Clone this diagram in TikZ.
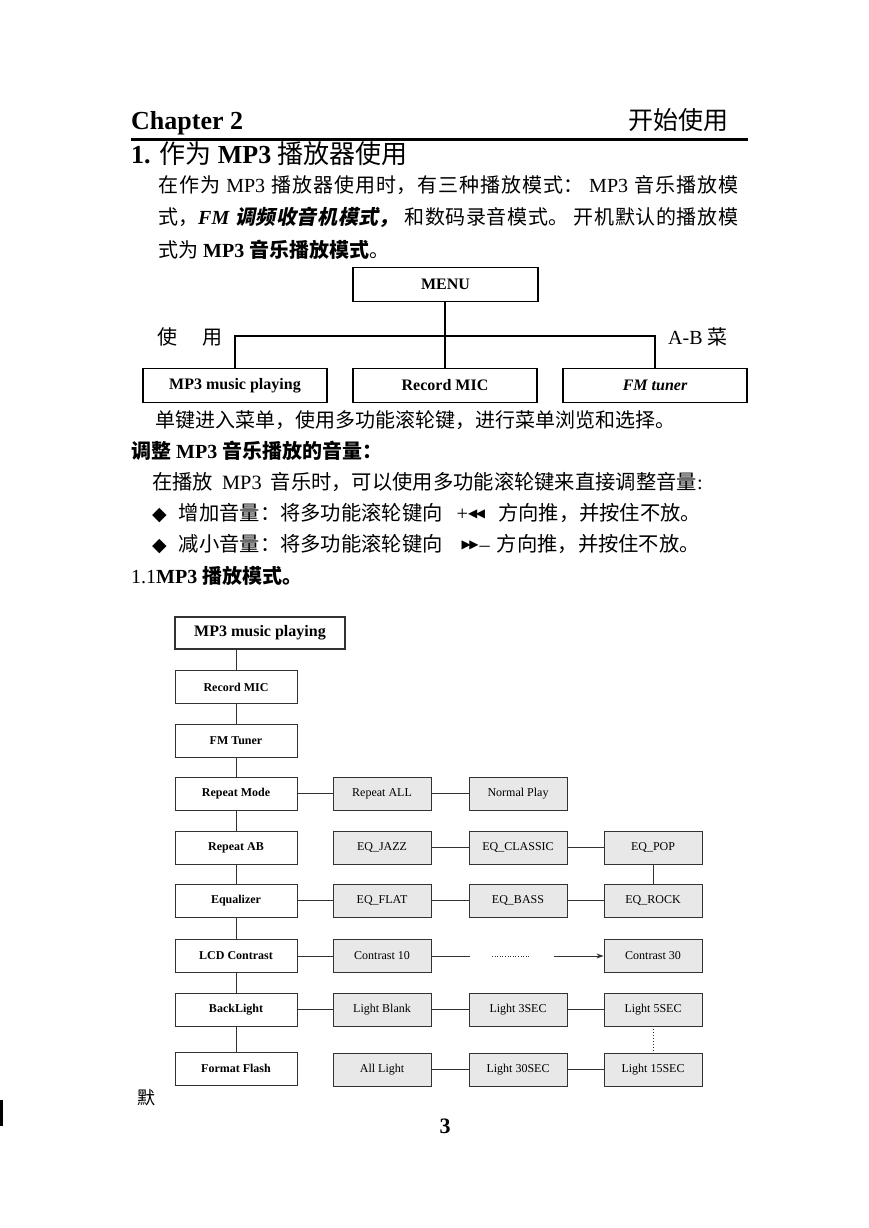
\documentclass[tikz,border=0pt]{standalone}
\usepackage{fontspec}
\setmainfont{Liberation Serif}
\newfontfamily\cjk{Noto Sans CJK SC}
\newfontfamily\cjksl[FakeSlant=0.2]{Noto Sans CJK SC}
\newfontfamily\symf{DejaVu Sans}
\usetikzlibrary{arrows.meta}
\newcommand\zh[1]{{\cjk #1}}
\XeTeXlinebreaklocale "zh"
\XeTeXlinebreakskip=0pt plus 2pt
\definecolor{boxgray}{RGB}{232,232,232}
\definecolor{linegray}{RGB}{50,50,50}
\tikzset{
  txt/.style={inner sep=0pt, anchor=base west},
  menubox/.style={draw, line width=1.8pt, minimum height=34pt, inner sep=0pt, font=\fontsize{16}{18}\selectfont\bfseries},
  lbox/.style={draw=linegray, fill=white, line width=0.9pt, minimum width=122pt, minimum height=33pt, inner sep=0pt, font=\fontsize{12}{14}\selectfont\bfseries},
  gbox/.style={draw=linegray, fill=boxgray, line width=0.9pt, minimum width=98pt, minimum height=33pt, inner sep=0pt, font=\fontsize{12}{14}\selectfont},
  conn/.style={draw=linegray, line width=0.9pt},
  mline/.style={line width=1.8pt}
}
\begin{document}
\begin{tikzpicture}[x=1pt,y=-1pt]
\useasboundingbox (0,0) rectangle (869,1228);
\fill[white] (0,0) rectangle (869,1228);

% header
\node[txt, font=\fontsize{26}{30}\selectfont\bfseries] (chap) at (131,129) {Chapter 2};
\node[inner sep=0pt, anchor=base east, font=\fontsize{25}{30}\selectfont] (kssy) at (729,129) {\zh{开始使用}};
\draw[line width=3pt] (131,139) coordinate (r1) -- (748,139) coordinate (r2);
\node[txt, font=\fontsize{26}{30}\selectfont] (h1) at (131,164) {\textbf{1.} \zh{作为} \textbf{MP3} \zh{播放器使用}};

% paragraph
\node[anchor=base west, inner sep=0pt, text width=580pt, align=justify, font=\fontsize{20}{32.5}\selectfont] (para) at (158,192)
{\zh{在作为} MP3 \zh{播放器使用时，有三种播放模式：} MP3 \zh{音乐播放模}\linebreak
\zh{式，}{\bfseries\itshape FM {\cjksl 调频收音机模式，}} \zh{和数码录音模式。} \zh{开机默认的播放模}\linebreak
\zh{式为} {\bfseries MP3 \zh{音乐播放模式}}\zh{。}};

% menu diagram
\node[menubox, minimum width=185pt] (menu) at (445.5,284.5) {MENU};
\node[menubox, minimum width=184pt] (mmp3) at (235,385.5) {MP3 music playing};
\node[menubox, minimum width=184pt] (mrec) at (445,385.5) {Record MIC};
\node[menubox, minimum width=184pt, font=\fontsize{16}{18}\selectfont\bfseries\itshape] (mfm) at (655,385.5) {FM tuner};
\coordinate (mj) at (445,336);
\draw[mline] (menu.south -| mj) -- (mj);
\draw[mline] (mmp3.north) |- (mj) -| (mfm.north);
\draw[mline] (mj) -- (mrec.north);
\node[txt, font=\fontsize{20}{24}\selectfont] (shi) at (157,344) {\zh{使}\hspace{25pt}\zh{用}};
\node[txt, font=\fontsize{20}{24}\selectfont] (ab) at (668,344) {A-B \zh{菜}};

% text lines
\node[txt, font=\fontsize{20}{24}\selectfont] (l1) at (155,427) {\zh{单键进入菜单，使用多功能滚轮键，进行菜单浏览和选择。}};
\node[txt, font=\fontsize{20}{24}\selectfont\bfseries] (l2) at (131,458) {\zh{调整} MP3 \zh{音乐播放的音量：}};
\node[txt, font=\fontsize{20.3}{24}\selectfont] (l3) at (152,489) {\zh{在播放}\hspace{4pt} MP3 \hspace{4pt}\zh{音乐时，可以使用多功能滚轮键来直接调整音量}:};
\node[txt, font=\fontsize{20.3}{24}\selectfont] (l4) at (152,520) {{\symf\fontsize{19}{20}\selectfont ◆}\hspace{12pt}\zh{增加音量：将多功能滚轮键向}\hspace{14pt}+\raisebox{3pt}{\symf\fontsize{12}{12}\selectfont ◀\kern-1.5pt◀}\hspace{13pt}\zh{方向推，并按住不放。}};
\node[txt, font=\fontsize{20.3}{24}\selectfont] (l5) at (152,551) {{\symf\fontsize{19}{20}\selectfont ◆}\hspace{12pt}\zh{减小音量：将多功能滚轮键向}\hspace{19pt}\raisebox{3pt}{\symf\fontsize{12}{12}\selectfont ▶\kern-1.5pt▶}\kern1pt–\hspace{7pt}\zh{方向推，并按住不放。}};
\node[txt, font=\fontsize{20}{24}\selectfont] (l6) at (131,583) {1.1\textbf{MP3 \zh{播放模式。}}};

% flowchart left column
\node[lbox, minimum width=170pt, minimum height=32pt, line width=1.8pt, font=\fontsize{16}{18}\selectfont\bfseries] (fmp3) at (260,633) {MP3 music playing};
\node[lbox] (frec) at (236,687) {Record MIC};
\node[lbox] (ffm) at (236,740.5) {FM Tuner};
\node[lbox] (frm) at (236,793.5) {Repeat Mode};
\node[lbox] (frab) at (236,847.5) {Repeat AB};
\node[lbox] (feq) at (236,900.5) {Equalizer};
\node[lbox] (flcd) at (236,956) {LCD Contrast};
\node[lbox] (fbl) at (236,1009.5) {BackLight};
\node[lbox] (fff) at (236,1068.5) {Format Flash};

% gray boxes
\node[gbox] (rall) at (382,793.5) {Repeat ALL};
\node[gbox] (norm) at (518,793.5) {Normal Play};
\node[gbox] (jazz) at (382,847.5) {EQ\_JAZZ};
\node[gbox] (clas) at (518,847.5) {EQ\_CLASSIC};
\node[gbox] (pop) at (653,847.5) {EQ\_POP};
\node[gbox] (flat) at (382,900.5) {EQ\_FLAT};
\node[gbox] (bass) at (518,900.5) {EQ\_BASS};
\node[gbox] (rock) at (653,900.5) {EQ\_ROCK};
\node[gbox] (c10) at (382,956) {Contrast 10};
\node[gbox] (c30) at (653,956) {Contrast 30};
\node[gbox] (lb) at (382,1009.5) {Light Blank};
\node[gbox] (l3s) at (518,1009.5) {Light 3SEC};
\node[gbox] (l5s) at (653,1009.5) {Light 5SEC};
\node[gbox] (al) at (382,1069.5) {All Light};
\node[gbox] (l30) at (518,1069.5) {Light 30SEC};
\node[gbox] (l15) at (653,1069.5) {Light 15SEC};

% vertical spine
\draw[conn] (frec.north) -- (frec.north |- fmp3.south);
\draw[conn] (frec) -- (ffm);
\draw[conn] (ffm) -- (frm);
\draw[conn] (frm) -- (frab);
\draw[conn] (frab) -- (feq);
\draw[conn] (feq) -- (flcd);
\draw[conn] (flcd) -- (fbl);
\draw[conn] (fbl) -- (fff);

% horizontal links
\draw[conn] (frm) -- (rall);
\draw[conn] (rall) -- (norm);
\draw[conn] (jazz) -- (clas);
\draw[conn] (clas) -- (pop);
\draw[conn] (pop) -- (rock);
\draw[conn] (feq) -- (flat);
\draw[conn] (flat) -- (bass);
\draw[conn] (bass) -- (rock);
\draw[conn] (flcd) -- (c10);
\coordinate (ce1) at (470,956);
\coordinate (cd1) at (492,956);
\coordinate (cd2) at (530,956);
\coordinate (ce2) at (554,956);
\draw[conn] (c10) -- (ce1);
\draw[conn, line width=0.6pt, dotted] (cd1) -- (cd2);
\draw[conn, -{Stealth[length=7pt,width=5pt]}] (ce2) -- (c30);
\draw[conn] (fbl) -- (lb);
\draw[conn] (lb) -- (l3s);
\draw[conn] (l3s) -- (l5s);
\draw[conn, dotted] (l5s) -- (l15);
\draw[conn] (al) -- (l30);
\draw[conn] (l30) -- (l15);

% footer
\node[txt, font=\fontsize{18}{20}\selectfont] (mo) at (137,1104) {\zh{默}};
\draw[line width=2.5pt] (1.5,1100) coordinate (b1) -- (1.5,1126) coordinate (b2);
\node[inner sep=0pt, anchor=base, font=\fontsize{22}{24}\selectfont\bfseries] (pg) at (445,1133) {3};
\end{tikzpicture}
\end{document}
